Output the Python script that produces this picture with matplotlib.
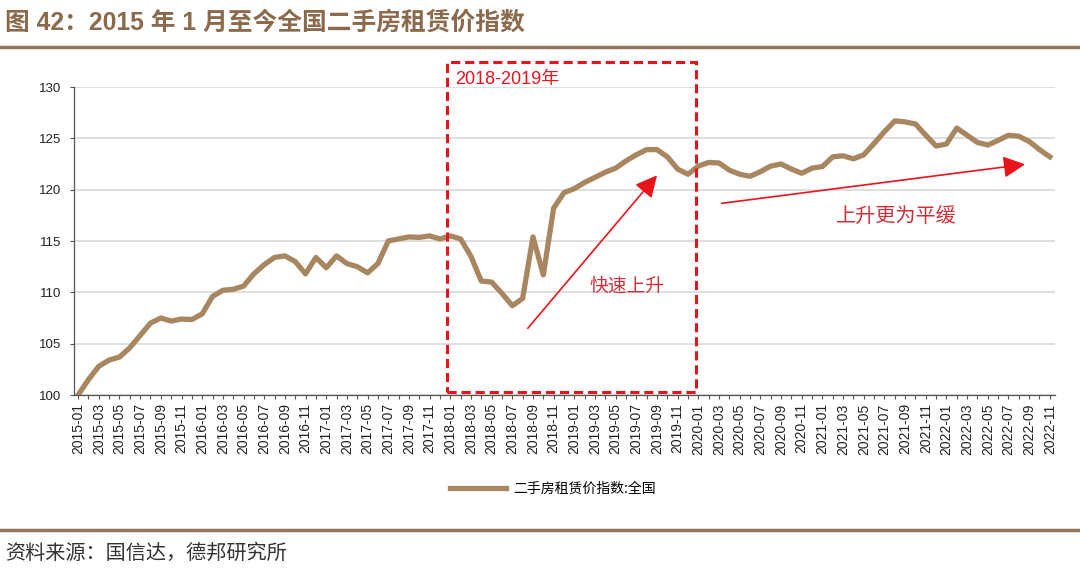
import matplotlib
matplotlib.use("Agg")
import matplotlib.pyplot as plt
from matplotlib.patches import Rectangle
from matplotlib.lines import Line2D

plt.rcParams['font.family'] = ['Liberation Sans', 'Noto Sans CJK SC', 'DejaVu Sans']

title = "图 42：2015 年 1 月至今全国二手房租赁价指数"
source = "资料来源：国信达，德邦研究所"
series_name = "二手房租赁价指数:全国"

months = [f"{y}-{m:02d}" for y in range(2015, 2023) for m in range(1, 13)][:95]

values = [
    # 2015
    100.0, 101.5, 102.8, 103.4, 103.7, 104.6, 105.8, 107.0, 107.5, 107.2, 107.4, 107.35,
    # 2016
    107.9, 109.6, 110.2, 110.3, 110.6, 111.8, 112.7, 113.4, 113.55, 113.0, 111.8, 113.4,
    # 2017
    112.4, 113.55, 112.8, 112.5, 111.9, 112.8, 115.0, 115.2, 115.4, 115.35, 115.5, 115.2,
    # 2018
    115.5, 115.2, 113.5, 111.1, 111.0, 109.9, 108.7, 109.4, 115.4, 111.7, 118.2, 119.7,
    # 2019
    120.1, 120.7, 121.2, 121.7, 122.1, 122.8, 123.4, 123.9, 123.9, 123.2, 122.0, 121.5,
    # 2020
    122.3, 122.65, 122.6, 121.9, 121.5, 121.3, 121.75, 122.3, 122.5, 122.0, 121.6, 122.1,
    # 2021
    122.25, 123.2, 123.3, 123.0, 123.4, 124.5, 125.65, 126.7, 126.6, 126.4, 125.3, 124.25,
    # 2022
    124.45, 126.0, 125.3, 124.6, 124.35, 124.8, 125.3, 125.2, 124.7, 123.9, 123.2,
]

yticks = [100, 105, 110, 115, 120, 125, 130]

line_color = '#A88660'
brown = '#94755A'
red = '#E8141C'
cjk = ['Noto Sans CJK SC', 'DejaVu Sans']

fig = plt.figure(figsize=(10.8, 5.7), dpi=100)
ax = fig.add_axes([74/1080, 1-395/570, (1055-74)/1080, (395-87)/570])

x = list(range(len(months)))
ax.plot(x, values, color=line_color, lw=3.8, solid_joinstyle='round', zorder=3)

ax.set_ylim(100, 130)
ax.set_xlim(-0.4, len(months) - 1 + 0.5)
ax.set_yticks(yticks)
ax.set_yticklabels([str(v) for v in yticks], fontsize=9.5, color='#222222')
ax.set_xticks(x)
ax.set_xticklabels([m if i % 2 == 0 else '' for i, m in enumerate(months)],
                   rotation=90, fontsize=10, color='#222222')
ax.tick_params(axis='x', length=3, width=0.8, color='#555555', pad=3)
ax.tick_params(axis='y', length=3, width=0.8, color='#555555', pad=6)
ax.grid(axis='y', color='#D9D9D9', lw=1.2)
ax.set_axisbelow(True)
for s in ['top', 'right']:
    ax.spines[s].set_visible(False)
ax.spines['left'].set_color('#555555')
ax.spines['bottom'].set_color('#555555')
ax.spines['left'].set_linewidth(0.9)
ax.spines['bottom'].set_linewidth(0.9)

# Dashed rectangle highlighting 2018-2019
rect = Rectangle((35.7, 100.3), 59.8 - 35.7, 132.4 - 100.3, fill=False,
                 edgecolor=red, lw=2.2, ls=(0, (3, 1.6)), clip_on=False, zorder=4)
ax.add_patch(rect)
ax.text(36.5, 130.7, "2018-2019年", color=red, fontsize=13, va='center', ha='left',
        family=['Liberation Sans', 'Noto Sans CJK SC'], clip_on=False)

# Arrows
arrow_style = '-|>,head_length=0.6,head_width=0.3'
ax.annotate('', xy=(56.0, 121.4), xytext=(43.5, 106.5),
            arrowprops=dict(arrowstyle=arrow_style, color=red, lw=1.2, mutation_scale=22,
                            shrinkA=0, shrinkB=0))
ax.annotate('', xy=(91.6, 122.47), xytext=(62.25, 118.67),
            arrowprops=dict(arrowstyle=arrow_style, color=red, lw=1.2, mutation_scale=22,
                            shrinkA=0, shrinkB=0))
ax.text(53.06, 110.6, "快速上升", color='#D0303A', fontsize=13.5, ha='center', va='center',
        family=cjk)
ax.text(79.2, 117.4, "上升更为平缓", color='#D0303A', fontsize=14.5, ha='center', va='center',
        family=cjk)

# Legend
handle = Line2D([], [], color=line_color, lw=3.8)
fig.legend([handle], [series_name], loc='center', bbox_to_anchor=(553/1080, 1-489/570),
           frameon=False, handlelength=4.0, handletextpad=0.5,
           prop={'family': cjk, 'size': 10})

# Title and source
fig.text(5/1080, 1-23/570, title, fontsize=17.8, fontweight='bold', color='#8A6A4A',
         ha='left', va='center', family=['Liberation Sans', 'Noto Sans CJK SC'])
fig.add_artist(Line2D([0, 1], [1-47/570, 1-47/570], color=brown, lw=2.5,
                      transform=fig.transFigure))
fig.add_artist(Line2D([0, 1], [1-530/570, 1-530/570], color=brown, lw=2.5,
                      transform=fig.transFigure))
fig.text(5/1080, 1-553/570, source, fontsize=14.5, color='#333333', ha='left', va='center',
         family=cjk)

fig.savefig('out.png', dpi=100)
